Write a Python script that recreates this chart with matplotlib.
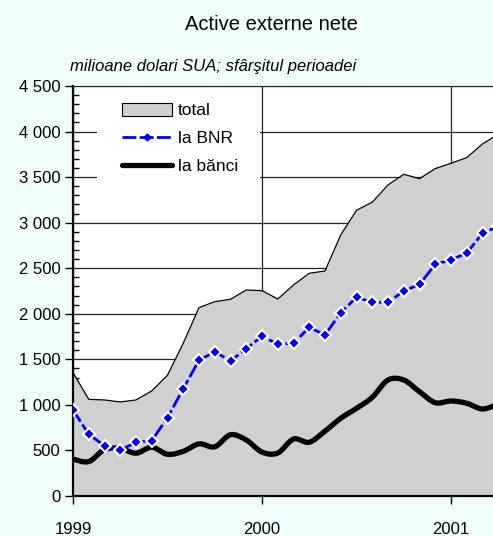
import matplotlib
matplotlib.use("Agg")
import matplotlib.pyplot as plt
from matplotlib.path import Path
from matplotlib.patches import PathPatch, Patch, Rectangle
from matplotlib.lines import Line2D
from matplotlib.ticker import FuncFormatter, MultipleLocator

# monthly, Jan 1999 - Apr 2001 (last month sits past the right edge)
total = [1354, 1061, 1054, 1032, 1054, 1153, 1325, 1676, 2067, 2133, 2159, 2261,
         2254, 2162, 2316, 2444, 2470, 2865, 3136, 3224, 3414, 3531, 3483, 3593,
         3652, 3714, 3864, 3970]
bnr = [944, 677, 552, 505, 589, 607, 860, 1178, 1489, 1584, 1482, 1617,
       1753, 1668, 1676, 1851, 1767, 2012, 2181, 2126, 2126, 2250, 2323, 2543,
       2591, 2667, 2883, 2960]
banci = [405, 378, 510, 522, 470, 535, 458, 490, 572, 540, 672, 615,
         482, 472, 625, 590, 712, 853, 962, 1083, 1273, 1273, 1145, 1024,
         1043, 1018, 955, 1010]
years = ["1999", "2000", "2001"]

months = list(range(len(total)))
bg = "#effffb"
blue = "#0000ff"

plt.rcParams['font.family'] = ['Liberation Sans', 'DejaVu Sans']

fig = plt.figure(figsize=(4.93, 5.36), dpi=100)
fig.patch.set_facecolor(bg)
ax = fig.add_axes([73 / 493, 40 / 536, 1 - 73 / 493, 410 / 536])
ax.set_facecolor("white")

ax.fill_between(months, total, 0, color="#d0d0d0", lw=0, zorder=1)
ax.plot(months, total, color="black", lw=0.9, zorder=2)


# smooth curve through the points (catmull-rom as bezier segments)
def smooth_path(xs, ys):
    pts = list(zip(xs, ys))
    verts = [pts[0]]
    codes = [Path.MOVETO]
    for i in range(len(pts) - 1):
        p0 = pts[i - 1] if i > 0 else pts[i]
        p1 = pts[i]
        p2 = pts[i + 1]
        p3 = pts[i + 2] if i + 2 < len(pts) else pts[i + 1]
        c1 = (p1[0] + (p2[0] - p0[0]) / 6, p1[1] + (p2[1] - p0[1]) / 6)
        c2 = (p2[0] - (p3[0] - p1[0]) / 6, p2[1] - (p3[1] - p1[1]) / 6)
        verts += [c1, c2, p2]
        codes += [Path.CURVE4] * 3
    return Path(verts, codes)


ax.add_patch(PathPatch(smooth_path(months, banci), fill=False, edgecolor="black",
                       lw=3.8, capstyle="round", joinstyle="round", zorder=3))

ax.plot(months, bnr, color=blue, lw=2, dashes=(5, 1.2), marker="D",
        markersize=6, markerfacecolor=blue, markeredgecolor="white",
        markeredgewidth=1.5, zorder=4)

ax.set_xlim(0, (493 - 73) / 15.75)
ax.set_ylim(0, 4500)
ax.yaxis.set_major_locator(MultipleLocator(500))
ax.yaxis.set_minor_locator(MultipleLocator(100))
ax.yaxis.set_major_formatter(FuncFormatter(lambda v, p: f"{int(v):,}".replace(",", " ")))
ax.set_xticks([0, 12, 24])
ax.set_xticklabels(years)

ax.grid(axis="both", color="#222222", lw=0.9)
ax.set_axisbelow(True)
for g in ax.get_xgridlines() + ax.get_ygridlines():
    g.set_zorder(0.5)

ax.tick_params(axis="y", which="major", direction="out", length=5.5, width=1,
               labelsize=12, pad=3.5)
ax.tick_params(axis="y", which="minor", direction="in", length=4.3, width=1)
ax.tick_params(axis="x", which="major", direction="out", length=5.5, width=1,
               labelsize=12, pad=13)
ax.spines["right"].set_visible(False)
ax.spines["top"].set_color("#222222")
ax.spines["left"].set_linewidth(1.6)
ax.spines["bottom"].set_linewidth(1.6)

# white box behind the legend, hiding the horizontal gridlines
ax.add_patch(Rectangle(((97 - 73) / 420, (496 - 192) / 410), (260 - 97) / 420,
                       (192 - 90) / 410, transform=ax.transAxes,
                       facecolor="white", edgecolor="none", zorder=0.8))

handles = [Patch(facecolor="#d0d0d0", edgecolor="black", lw=0.8),
           Line2D([], [], color=blue, lw=2, dashes=(5, 1.2), marker="D",
                  markersize=3.5, markerfacecolor=blue, markeredgecolor=blue),
           Line2D([], [], color="black", lw=3.8, solid_capstyle="round")]
leg = ax.legend(handles, ["total", "la BNR", "la bănci"], loc="upper left",
                bbox_to_anchor=((122 - 73) / 420, (496 - 103) / 410),
                frameon=False, fontsize=12.5, handlelength=2.9,
                handleheight=0.75, handletextpad=0.3, labelspacing=0.72,
                borderpad=0, borderaxespad=0)
leg.set_zorder(5)

fig.text(271 / 493, 1 - 24 / 536, "Active externe nete", ha="center",
         va="center", fontsize=14.5)
fig.text(70 / 493, 1 - 66 / 536, "milioane dolari SUA; sfârşitul perioadei",
         ha="left", va="center", fontsize=12, style="italic")

fig.savefig("out.png", dpi=100, facecolor=bg)
